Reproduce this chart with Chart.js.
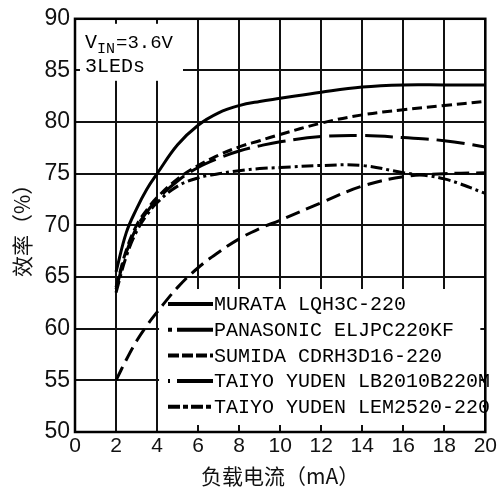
<!DOCTYPE html>
<html>
<head>
<meta charset="utf-8">
<script src="https://cdn.jsdelivr.net/npm/chart.js@4/dist/chart.umd.min.js"></script>
<style>
  html, body { margin: 0; padding: 0; background: #fff; }
  #wrap { width: 499px; height: 489px; }
</style>
</head>
<body>
<div id="wrap"><canvas id="myChart" width="499" height="489"></canvas></div>
<script>
// load current (mA)
var current = [2, 2.5, 3, 3.5, 4, 5, 6, 7, 8, 9, 10, 12, 14, 16, 18, 20];
// efficiency (%) per inductor
var murata    = [65.5, 69.3, 71.6, 73.5, 75.0, 77.8, 79.7, 80.9, 81.6, 82.0, 82.3, 82.9, 83.4, 83.6, 83.6, 83.6];
var panasonic = [63.8, 67.4, 69.8, 71.3, 72.5, 74.3, 75.6, 76.5, 77.2, 77.7, 78.1, 78.6, 78.7, 78.5, 78.2, 77.6];
var sumida    = [64.0, 67.6, 70.0, 71.5, 72.7, 74.5, 75.8, 76.8, 77.6, 78.2, 78.8, 79.9, 80.7, 81.2, 81.6, 82.0];
var lb2010    = [63.5, 67.0, 69.4, 71.0, 72.2, 73.8, 74.6, 75.0, 75.3, 75.5, 75.6, 75.8, 75.8, 75.1, 74.5, 73.1];
var lem2520   = [55.0, 57.0, 58.8, 60.3, 61.6, 64.0, 65.9, 67.4, 68.7, 69.7, 70.5, 72.2, 73.8, 74.7, 75.0, 75.1];

var seriesNames = ['MURATA LQH3C-220', 'PANASONIC ELJPC220KF', 'SUMIDA CDRH3D16-220',
  'TAIYO YUDEN LB2010B220M', 'TAIYO YUDEN LEM2520-220'];
var seriesValues = [murata, panasonic, sumida, lb2010, lem2520];

var xTicks = [0, 2, 4, 6, 8, 10, 12, 14, 16, 18, 20];
var yTicks = [50, 55, 60, 65, 70, 75, 80, 85, 90];

var lineDashes = [[], [28, 8], [10, 5], [12, 4, 3, 4], [15, 7]];
var legendDashes = [[], [4, 5, 40], [11, 3], [2, 7, 40], [12, 3, 5, 3]];

function toPoints(vals) {
  var pts = [];
  for (var i = 0; i < vals.length; i++) {
    pts.push({x: current[i], y: vals[i]});
  }
  return pts;
}

var datasets = [];
for (var i = 0; i < seriesNames.length; i++) {
  datasets.push({
    label: seriesNames[i],
    data: toPoints(seriesValues[i]),
    borderColor: '#000',
    borderWidth: 3,
    borderDash: lineDashes[i],
    pointRadius: 0,
    fill: false,
    tension: 0.4
  });
}

// white boxes under the curves, legend and note on top
var boxes = {
  id: 'boxes',
  beforeDatasetsDraw: function(chart) {
    var ctx = chart.ctx, a = chart.chartArea;
    var xs = chart.scales.x;
    ctx.save();
    ctx.fillStyle = '#fff';
    ctx.fillRect(a.left + 5, a.top + 5, 108 - 5, 62 - 5);
    ctx.fillRect(xs.getPixelForValue(4) + 2, 289, a.right - 5 - xs.getPixelForValue(4) - 2, a.bottom - 7 - 289);
    ctx.restore();
  },
  afterDraw: function(chart) {
    var ctx = chart.ctx, a = chart.chartArea;
    ctx.save();
    ctx.strokeStyle = '#000';
    ctx.lineWidth = 2.5;
    ctx.strokeRect(a.left, a.top, a.right - a.left, a.bottom - a.top);

    // legend
    ctx.fillStyle = '#000';
    ctx.font = '20px "Liberation Mono"';
    ctx.textBaseline = 'middle';
    for (var i = 0; i < chart.data.datasets.length; i++) {
      var y = 304 + i * 25.7;
      ctx.beginPath();
      ctx.lineWidth = 4;
      ctx.setLineDash(legendDashes[i]);
      ctx.moveTo(168, y);
      ctx.lineTo(213, y);
      ctx.stroke();
      ctx.setLineDash([]);
      ctx.fillText(chart.data.datasets[i].label, 214, y + 1);
    }

    // note
    ctx.textBaseline = 'alphabetic';
    ctx.font = '20px "Liberation Mono"';
    var x = 85;
    ctx.fillText('V', x, 48);
    x += ctx.measureText('V').width;
    ctx.font = '15px "Liberation Mono"';
    ctx.fillText('IN', x, 53);
    x += ctx.measureText('IN').width + 1;
    ctx.font = '19px "Liberation Mono"';
    ctx.fillText('=3.6V', x, 48);
    ctx.font = '20px "Liberation Mono"';
    ctx.fillText('3LEDs', 85, 72);
    ctx.restore();
  }
};

var ctx = document.getElementById('myChart').getContext('2d');
var chart = new Chart(ctx, {
  type: 'line',
  data: { datasets: datasets },
  options: {
    responsive: false,
    animation: false,
    layout: { padding: { top: 15, right: 6, left: 0, bottom: 0 } },
    plugins: { legend: { display: false }, tooltip: { enabled: false } },
    scales: {
      x: {
        type: 'linear',
        min: 0, max: 20,
        afterFit: function(s) { s.height = 57; },
        afterBuildTicks: function(s) { s.ticks = xTicks.map(function(v) { return {value: v}; }); },
        grid: { color: '#111', lineWidth: 2, drawTicks: false },
        border: { display: false },
        ticks: { color: '#111', padding: 2, font: { family: 'Liberation Sans', size: 21 }, maxRotation: 0, autoSkip: false },
        title: { display: true, text: '负载电流（mA）', color: '#111', padding: { top: 0, bottom: 0 },
          font: { family: 'Noto Sans CJK SC', size: 21 } }
      },
      y: {
        min: 50, max: 90,
        afterFit: function(s) { s.width = 75; },
        afterBuildTicks: function(s) { s.ticks = yTicks.map(function(v) { return {value: v}; }); },
        grid: { color: '#111', lineWidth: 2, drawTicks: false },
        border: { display: false },
        ticks: { color: '#111', padding: 5, font: { family: 'Liberation Sans', size: 23 } },
        title: { display: true, text: '效率（%）', color: '#111', padding: { top: 9, bottom: 0 },
          font: { family: 'Noto Sans CJK SC', size: 21 } }
      }
    }
  },
  plugins: [boxes]
});
</script>
</body>
</html>
